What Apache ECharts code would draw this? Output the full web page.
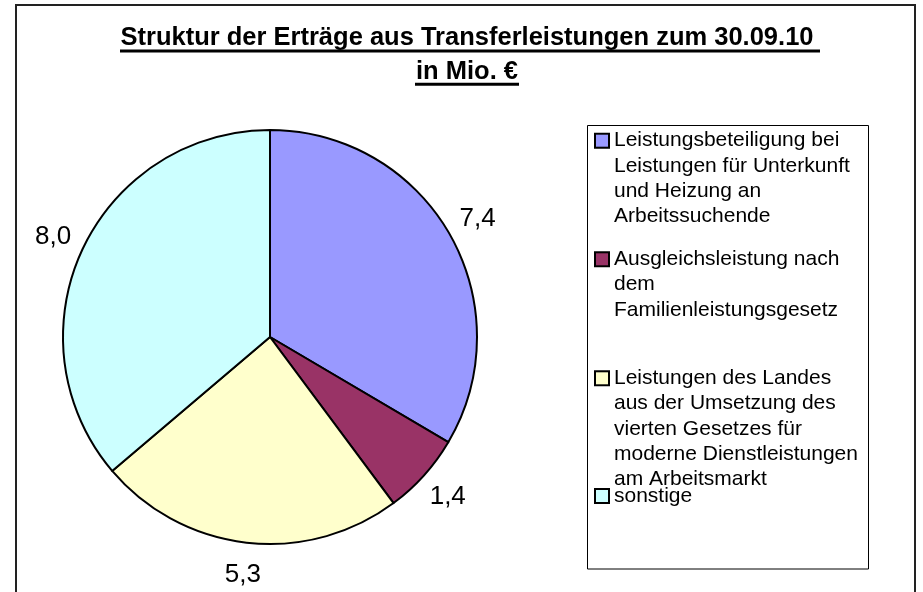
<!DOCTYPE html>
<html>
<head>
<meta charset="utf-8">
<script src="https://cdn.jsdelivr.net/npm/echarts@6/dist/echarts.min.js"></script>
<style>
html,body{margin:0;padding:0;background:#fff;}
#c{width:923px;height:592px;}
</style>
</head>
<body>
<div id="c"></div>
<script>
// ---- data ----
const titleLines = ['Struktur der Erträge aus Transferleistungen zum 30.09.10', 'in Mio. €'];
const categories = [
  'Leistungsbeteiligung bei Leistungen für Unterkunft und Heizung an Arbeitssuchende',
  'Ausgleichsleistung nach dem Familienleistungsgesetz',
  'Leistungen des Landes aus der Umsetzung des vierten Gesetzes für moderne Dienstleistungen am Arbeitsmarkt',
  'sonstige'
];
const legendLines = [
  ['Leistungsbeteiligung bei', 'Leistungen für Unterkunft', 'und Heizung an', 'Arbeitssuchende'],
  ['Ausgleichsleistung nach', 'dem', 'Familienleistungsgesetz'],
  ['Leistungen des Landes', 'aus der Umsetzung des', 'vierten Gesetzes für', 'moderne Dienstleistungen', 'am Arbeitsmarkt'],
  ['sonstige']
];
const values = [7.4, 1.4, 5.3, 8.0];
const colors = ['#9999FF', '#993366', '#FFFFCC', '#CCFFFF'];

// ---- layout ----
const FONT = '"Liberation Sans", Arial, sans-serif';
const TITLE_SIZE = 25.5;
const pieCenter = [270, 337];
const pieRadius = 207;
const labelRadius = 239;
const titleCenterX = 467;
const legendFirstLineCenters = [140.7, 259.3, 378.3, 496];
const legendLineHeight = 25.3;

const ctx = document.createElement('canvas').getContext('2d');
ctx.font = 'bold ' + TITLE_SIZE + 'px "Liberation Sans", Arial, sans-serif';
const tw = titleLines.map(t => ctx.measureText(t).width);

const total = values.reduce((a, b) => a + b, 0);
function midAngle(i) {
  let before = 0;
  for (let k = 0; k < i; k++) before += values[k];
  return (before + values[i] / 2) / total * 2 * Math.PI;
}

const chart = echarts.init(document.getElementById('c'), null, {renderer: 'canvas'});

const rich = {
  t: {fontSize: 21, lineHeight: legendLineHeight, color: '#000', fontFamily: FONT},
  g: {width: 6, lineHeight: legendLineHeight},
  ind: {width: 18, lineHeight: legendLineHeight}
};
colors.forEach((c, i) => {
  rich['b' + i] = {width: 12, height: 12, backgroundColor: c, borderColor: '#000', borderWidth: 2, lineHeight: legendLineHeight};
});

const legends = categories.map((name, i) => ({
  data: [name],
  orient: 'vertical',
  left: 591,
  top: legendFirstLineCenters[i] - legendLineHeight / 2,
  padding: 0,
  icon: 'none',
  itemWidth: 0,
  itemHeight: 14,
  itemGap: 0,
  selectedMode: false,
  formatter: function () {
    return legendLines[i].map((ln, j) => (j === 0 ? '{b' + i + '|}{g|}' : '{ind|}') + '{t|' + ln + '}').join('\n');
  },
  textStyle: {fontSize: 21, lineHeight: legendLineHeight, color: '#000', fontFamily: FONT, rich: rich}
}));

const option = {
  animation: false,
  backgroundColor: '#fff',
  title: {
    text: titleLines.join('\n'),
    left: titleCenterX,
    top: 21,
    padding: 0,
    textAlign: 'center',
    textVerticalAlign: 'top',
    textStyle: {fontSize: TITLE_SIZE, fontWeight: 'bold', color: '#000', fontFamily: FONT, lineHeight: 34}
  },
  legend: legends,
  graphic: [
    {type: 'rect', shape: {x: 16, y: 5, width: 899, height: 640}, style: {fill: 'none', stroke: '#222', lineWidth: 2}, silent: true},
    {type: 'rect', shape: {x: 587.5, y: 125.5, width: 281, height: 443.5}, style: {fill: 'none', stroke: '#000', lineWidth: 1}, silent: true},
    {type: 'rect', shape: {x: titleCenterX - tw[0] / 2 - 0.5, y: 49.5, width: tw[0] + 7, height: 3}, style: {fill: '#000'}, silent: true},
    {type: 'rect', shape: {x: titleCenterX - tw[1] / 2 - 1, y: 82.8, width: tw[1] + 2, height: 3}, style: {fill: '#000'}, silent: true}
  ],
  series: [{
    type: 'pie',
    center: pieCenter,
    radius: pieRadius,
    startAngle: 90,
    clockwise: true,
    avoidLabelOverlap: false,
    data: categories.map((n, i) => ({name: n, value: values[i], itemStyle: {color: colors[i]}})),
    itemStyle: {borderColor: '#000', borderWidth: 2},
    label: {
      show: true,
      position: 'outside',
      formatter: p => values[p.dataIndex].toFixed(1).replace('.', ','),
      fontSize: 26,
      fontFamily: FONT,
      color: '#000'
    },
    labelLine: {show: false},
    labelLayout: function (params) {
      const a = midAngle(params.dataIndex);
      return {
        x: pieCenter[0] + Math.sin(a) * labelRadius,
        y: pieCenter[1] - Math.cos(a) * labelRadius,
        align: 'center',
        verticalAlign: 'middle'
      };
    },
    emphasis: {disabled: true}
  }]
};
chart.setOption(option);
</script>
</body>
</html>
